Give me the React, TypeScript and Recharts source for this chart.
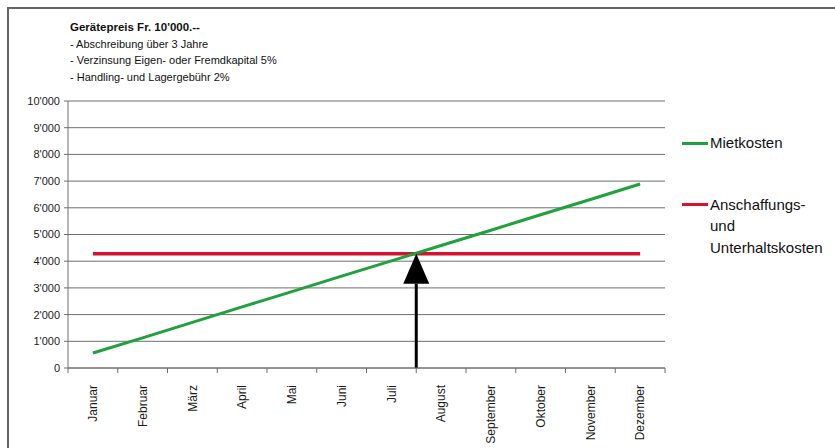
import React from 'react';
import {
  LineChart,
  Line,
  XAxis,
  YAxis,
  CartesianGrid,
  ReferenceLine,
} from 'recharts';

// Months shown on the x axis
const months = [
  'Januar', 'Februar', 'März', 'April', 'Mai', 'Juni',
  'Juli', 'August', 'September', 'Oktober', 'November', 'Dezember',
];

// Cumulative rental cost
const mietkosten = [560, 1130, 1710, 2290, 2860, 3440, 4010, 4590, 5160, 5740, 6310, 6890];

// Purchase + maintenance cost, flat over the year
const anschaffungskosten = [4280, 4280, 4280, 4280, 4280, 4280, 4280, 4280, 4280, 4280, 4280, 4280];

const yTicks = [0, 1000, 2000, 3000, 4000, 5000, 6000, 7000, 8000, 9000, 10000];

const titleLines = [
  'Gerätepreis Fr. 10\'000.--',
  '- Abschreibung über 3 Jahre',
  '- Verzinsung Eigen- oder Fremdkapital 5%',
  '- Handling- und Lagergebühr 2%',
];

// break-even between Juli and August
const breakEvenMonth = 7;
const breakEvenValue = 4280;

const legendItems = [
  { lines: ['Mietkosten'], color: '#1fa23b' },
  { lines: ['Anschaffungs-', 'und', 'Unterhaltskosten'], color: '#d3132f' },
];

const FONT = '"Liberation Sans", Arial, sans-serif';
const GRID = '#6e6e6e';

const data = months.map((month, i) => ({
  pos: i + 0.5,
  month,
  miet: mietkosten[i],
  anschaffung: anschaffungskosten[i],
}));

const boundaryTicks = months.map((_, i) => i).concat(months.length);
const labelTicks = months.map((_, i) => i + 0.5);

const formatThousands = (v: number) =>
  v >= 1000 ? `${Math.floor(v / 1000)}'${String(v % 1000).padStart(3, '0')}` : String(v);

function EmptyTick() {
  return <g />;
}

function MonthTick(props: any) {
  const { x, y, payload } = props;
  const label = months[Math.floor(payload.value)];
  return (
    <g transform={`translate(${x},${y})`}>
      <text
        transform="rotate(-90)"
        x={-3}
        y={0}
        dy="0.35em"
        textAnchor="end"
        fontSize={12}
        fontFamily={FONT}
        fill="#1a1a1a"
      >
        {label}
      </text>
    </g>
  );
}

function Arrow(props: any) {
  const { x1, y1, x2, y2 } = props;
  const x = (x1 + x2) / 2;
  const top = Math.min(y1, y2);
  const bottom = Math.max(y1, y2);
  const headH = 30;
  const headW = 13;
  return (
    <g>
      <line x1={x} y1={bottom} x2={x} y2={top + headH} stroke="#000" strokeWidth={3} />
      <polygon
        points={`${x},${top} ${x - headW},${top + headH} ${x + headW},${top + headH}`}
        fill="#000"
      />
    </g>
  );
}

export default function App() {
  return (
    <div
      style={{
        position: 'absolute',
        left: 0,
        top: 0,
        width: 835,
        height: 448,
        background: '#fff',
        fontFamily: FONT,
        overflow: 'hidden',
      }}
    >
      <div
        style={{
          position: 'absolute',
          left: 7,
          top: 7,
          right: -10,
          bottom: -10,
          borderTop: '2px solid #666',
          borderLeft: '2px solid #666',
        }}
      />

      <div style={{ position: 'absolute', left: 70, top: 19, color: '#111' }}>
        {titleLines.map((line, i) => (
          <div
            key={line}
            style={{
              fontSize: i === 0 ? 11.5 : 11,
              fontWeight: i === 0 ? 'bold' : 'normal',
              lineHeight: '16.7px',
              whiteSpace: 'nowrap',
            }}
          >
            {line}
          </div>
        ))}
      </div>

      <LineChart
        width={835}
        height={448}
        data={data}
        margin={{ top: 101, right: 170, left: 8, bottom: 0 }}
        style={{ position: 'absolute', left: 0, top: 0 }}
      >
        <CartesianGrid xAxisId="grid" vertical={false} stroke={GRID} strokeWidth={1} />
        <XAxis
          xAxisId="grid"
          type="number"
          dataKey="pos"
          domain={[0, months.length]}
          ticks={boundaryTicks}
          tick={<EmptyTick />}
          tickSize={5}
          height={6}
          interval={0}
          axisLine={{ stroke: GRID }}
          tickLine={{ stroke: GRID }}
        />
        <XAxis
          xAxisId="label"
          type="number"
          dataKey="pos"
          domain={[0, months.length]}
          ticks={labelTicks}
          tick={<MonthTick />}
          tickLine={false}
          axisLine={false}
          height={74}
          interval={0}
        />
        <YAxis
          domain={[0, 10000]}
          ticks={yTicks}
          width={60}
          tickSize={4}
          tickMargin={4}
          interval={0}
          tickFormatter={formatThousands}
          axisLine={{ stroke: GRID }}
          tickLine={{ stroke: GRID }}
          tick={{ fontSize: 11, fill: '#222', fontFamily: FONT }}
        />
        <Line
          xAxisId="grid"
          type="linear"
          dataKey="anschaffung"
          stroke="#d3132f"
          strokeWidth={3.5}
          dot={false}
          isAnimationActive={false}
        />
        <Line
          xAxisId="grid"
          type="linear"
          dataKey="miet"
          stroke="#1fa23b"
          strokeWidth={3}
          dot={false}
          isAnimationActive={false}
        />
        <ReferenceLine
          xAxisId="grid"
          segment={[
            { x: breakEvenMonth, y: 0 },
            { x: breakEvenMonth, y: breakEvenValue },
          ]}
          shape={<Arrow />}
        />
      </LineChart>

      <div style={{ position: 'absolute', left: 682, top: 132 }}>
        {legendItems.map((item, i) => (
          <div key={i} style={{ display: 'flex', alignItems: 'flex-start', marginBottom: i === 0 ? 40 : 0 }}>
            <div
              style={{
                width: 26,
                height: 3,
                background: item.color,
                marginTop: 9.5,
              }}
            />
            <div style={{ fontSize: 15, lineHeight: '21.5px', color: '#111', marginLeft: 2 }}>
              {item.lines.map((l) => (
                <div key={l}>{l}</div>
              ))}
            </div>
          </div>
        ))}
      </div>
    </div>
  );
}
